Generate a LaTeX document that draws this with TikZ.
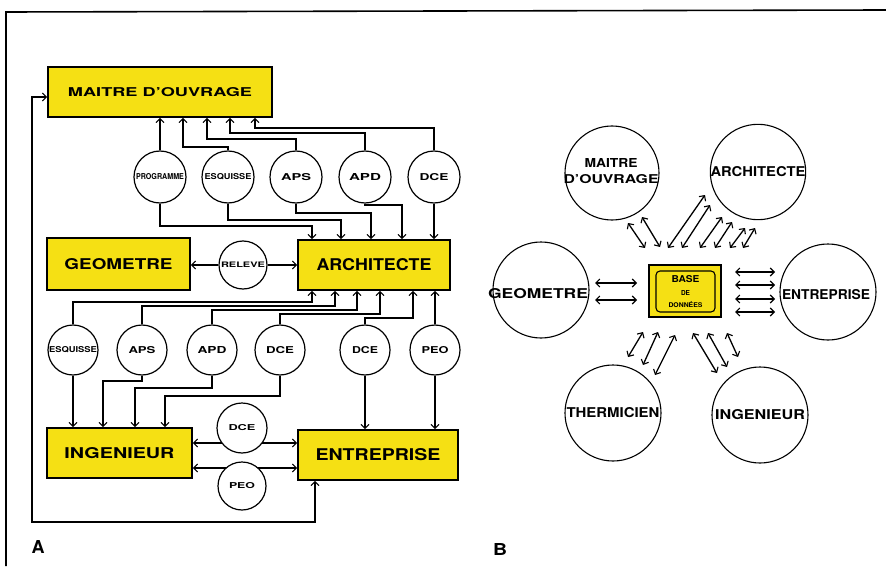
\documentclass[tikz,border=0pt]{standalone}
\usepackage{fontspec}
\setmainfont{TeX Gyre Heros}
\usetikzlibrary{arrows.meta,calc}
\definecolor{boxyellow}{RGB}{245,224,20}
\newcommand{\lbl}[3]{\resizebox{#1pt}{#2pt}{\bfseries #3}}
\begin{document}
\begin{tikzpicture}[x=1pt,y=-1pt,
  tip/.style={-{Straight Barb[length=4pt,width=8pt,line width=1pt]}, line width=1.2pt},
  dtip/.style={{Straight Barb[length=4pt,width=8pt,line width=1pt]}-{Straight Barb[length=4pt,width=8pt,line width=1pt]}, line width=1.2pt},
  btip/.style={{Straight Barb[length=4pt,width=8pt,line width=1.1pt]}-{Straight Barb[length=4pt,width=8pt,line width=1.1pt]}, line width=1.3pt},
  ybox/.style={draw, line width=1.8pt, fill=boxyellow, inner sep=0pt},
  phase/.style={circle, draw, line width=1.2pt, fill=white, minimum size=#1, inner sep=0pt},
  phase/.default=52pt,
  bcirc/.style={circle, draw, line width=1.1pt, minimum size=96pt, inner sep=0pt}
]
\useasboundingbox (0,0) rectangle (886,567);
\fill[white] (0,0) rectangle (886,567);
% frame
\draw[line width=1.6pt] (6,566) -- (6,12) -- (886,10);

% ---------------- A ----------------
\node[ybox, minimum width=224pt, minimum height=50pt] (mo) at (160,92) {\lbl{184}{9}{MAITRE D'OUVRAGE}};
\node[ybox, minimum width=143pt, minimum height=52pt] (geo) at (118.5,264) {\lbl{108}{11}{GEOMETRE}};
\node[ybox, minimum width=152pt, minimum height=50pt] (arc) at (374,265) {\lbl{115}{12}{ARCHITECTE}};
\node[ybox, minimum width=145pt, minimum height=50pt] (ing) at (119.5,453) {\lbl{110}{11}{INGENIEUR}};
\node[ybox, minimum width=160pt, minimum height=50pt] (ent) at (378,455) {\lbl{125}{12}{ENTREPRISE}};

% top row of circles
\node[phase] (t1) at (160,177) {\lbl{48}{6}{PROGRAMME}};
\node[phase] (t2) at (228,177) {\lbl{47}{6}{ESQUISSE}};
\node[phase] (t3) at (296,177) {\lbl{30}{7}{APS}};
\node[phase] (t4) at (365,177) {\lbl{32}{7}{APD}};
\node[phase] (t5) at (434,177) {\lbl{29}{7}{DCE}};

% middle row of circles
\node[phase=50pt] (m1) at (73,350) {\lbl{48}{6}{ESQUISSE}};
\node[phase=50pt] (m2) at (142,350) {\lbl{27}{7}{APS}};
\node[phase=50pt] (m3) at (212,350) {\lbl{29}{7}{APD}};
\node[phase=50pt] (m4) at (280,350) {\lbl{28}{7}{DCE}};
\node[phase=50pt] (m5) at (365,350) {\lbl{26}{7}{DCE}};
\node[phase=50pt] (m6) at (435,350) {\lbl{27}{7}{PEO}};

% bend coordinates
\coordinate (u2) at (183,147);
\coordinate (u3) at (207,139);
\coordinate (u4) at (230,133);
\coordinate (u5) at (255,128);
\coordinate (d1) at (312,226);
\coordinate (d2) at (341,220);
\coordinate (d3) at (371,213);
\coordinate (d4) at (402,205);
\coordinate (a1) at (312,302);
\coordinate (a2) at (335,306);
\coordinate (a3) at (357,310);
\coordinate (a4) at (380,314);
\coordinate (a5) at (413,318);
\coordinate (b2) at (103,381);
\coordinate (b3) at (135,388);
\coordinate (b4) at (165,396);

% top row -> maitre d'ouvrage
\draw[tip] (t1.north) -- (mo.south -| t1.north);
\draw[tip] (t2.north) |- (u2) -- (mo.south -| u2);
\draw[tip] (t3.north) |- (u3) -- (mo.south -| u3);
\draw[tip] (t4.north) |- (u4) -- (mo.south -| u4);
\draw[tip] (t5.north) |- (u5) -- (mo.south -| u5);
% top row -> architecte
\draw[tip] (t1.south) |- (d1) -- (arc.north -| d1);
\draw[tip] (t2.south) |- (d2) -- (arc.north -| d2);
\draw[tip] (t3.south) |- (d3) -- (arc.north -| d3);
\draw[tip] (t4.south) |- (d4) -- (arc.north -| d4);
\draw[tip] (t5.south) -- (arc.north -| t5.south);
% middle row -> architecte
\draw[tip] (m1.north) |- (a1) -- (arc.south -| a1);
\draw[tip] (m2.north) |- (a2) -- (arc.south -| a2);
\draw[tip] (m3.north) |- (a3) -- (arc.south -| a3);
\draw[tip] (m4.north) |- (a4) -- (arc.south -| a4);
\draw[tip] (m5.north) |- (a5) -- (arc.south -| a5);
\draw[tip] (m6.north) -- (arc.south -| m6.north);
% middle row -> ingenieur / entreprise
\draw[tip] (m1.south) -- (ing.north -| m1.south);
\draw[tip] (m2.south) |- (b2) -- (ing.north -| b2);
\draw[tip] (m3.south) |- (b3) -- (ing.north -| b3);
\draw[tip] (m4.south) |- (b4) -- (ing.north -| b4);
\draw[tip] (m5.south) -- (ent.north -| m5.south);
\draw[tip] (m6.south) -- (ent.north -| m6.south);

% releve
\node[phase=48pt] (rel) at (243,265) {\lbl{44}{5.5}{RELEVE}};
\draw[tip] (rel.west) -- (geo.east |- rel.west);
\draw[tip] (rel.east) -- (arc.west |- rel.east);

% ingenieur <-> entreprise
\coordinate (l1) at (242,443);
\coordinate (l2) at (242,468);
\draw[dtip] (ing.east |- l1) -- (ent.west |- l1);
\draw[dtip] (ing.east |- l2) -- (ent.west |- l2);
\node[phase=50pt] (dceb) at (242,428) {\lbl{27}{6}{DCE}};
\node[phase=48pt] (peob) at (242,486) {\lbl{26}{6}{PEO}};

% feedback loop
\coordinate (fb1) at (315,522);
\coordinate (fb2) at (32,522);
\coordinate (fb3) at (32,97);
\draw[dtip] (ent.south -| fb1) -- (fb1) -- (fb2) -- (fb3) -- (mo.west |- fb3);

\node (la) at (38,547) {\lbl{13}{13}{A}};

% ---------------- B ----------------
\node[bcirc, minimum size=94pt] (bmo) at (612,173) {};
\node[align=center, inner sep=0pt] (bmot) at (611,171) {\lbl{53}{9}{MAITRE}\\[4pt]\lbl{95}{9}{D'OUVRAGE}};
\node[bcirc, minimum size=95pt] (barc) at (758,172) {\lbl{95}{10}{ARCHITECTE}};
\node[bcirc] (bgeo) at (541,290) {};
\node (bgeot) at (538,294) {\lbl{100}{10}{GEOMETRE}};
\node[bcirc] (bent) at (828,292) {};
\node (bentt) at (826,295) {\lbl{88}{10}{ENTREPRISE}};
\node[bcirc] (bthe) at (613,413) {\lbl{93}{10}{THERMICIEN}};
\node[bcirc] (bing) at (760,415) {\lbl{90}{10}{INGENIEUR}};

\node[draw, line width=1.6pt, fill=boxyellow, minimum width=72pt, minimum height=52pt, inner sep=0pt] (base) at (685,291) {};
\node[draw, line width=1.1pt, rounded corners=4pt, minimum width=59pt, minimum height=41pt, inner sep=0pt, align=center] (basein) at (685.5,291.5)
  {\lbl{28}{7}{BASE}\\[1pt]\lbl{9}{5}{DE}\\[0pt]\lbl{34}{6}{DONNÉES}};

\foreach [count=\i] \ax/\ay/\bx/\by in {
  595/283/637/283, 595/300/637/300,
  735/272/775/272, 735/285/775/285, 735/299/775/299, 735/312/775/312,
  628/223/645/248, 642/217/660/247,
  668/248/705/195, 682/248/710/205, 700/248/722/217, 715/248/732/222, 730/248/745/228, 743/248/755/228,
  628/357/643/332, 643/365/658/332, 655/375/675/335,
  693/333/717/373, 708/333/727/367, 727/333/738/357}
{
  \coordinate (p\i) at (\ax,\ay);
  \coordinate (q\i) at (\bx,\by);
  \draw[btip] (p\i) -- (q\i);
}

\node (lb) at (500,549) {\lbl{14}{12}{B}};
\end{tikzpicture}
\end{document}
